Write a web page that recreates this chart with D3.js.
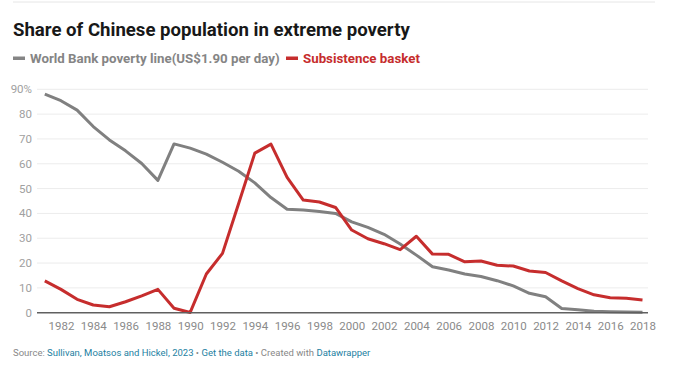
<!DOCTYPE html>
<html>
<head>
<meta charset="utf-8">
<script src="https://cdn.jsdelivr.net/npm/d3@7"></script>
<style>
  body { margin: 0; background: #fff; font-family: Roboto, "Noto Sans", sans-serif; }
  svg text { font-family: Roboto, "Noto Sans", sans-serif; }
</style>
</head>
<body>
<div id="chart"></div>
<script>
const years = d3.range(1981, 2019);

const worldBank = [
  88.1, 85.4, 81.6, 75.0, 69.6, 65.2, 60.1, 53.3, 68.0, 66.3,
  63.9, 60.6, 57.0, 52.3, 46.4, 41.7, 41.4, 40.8, 40.0, 36.6,
  34.4, 31.6, 27.7, 23.2, 18.5, 17.2, 15.6, 14.6, 12.9, 10.8,
  7.8, 6.4, 1.7, 1.2, 0.6, 0.4, 0.3, 0.2
];

const subsistence = [
  12.8, 9.4, 5.4, 3.1, 2.4, 4.4, 6.8, 9.4, 1.8, 0.1,
  15.6, 23.9, 44.0, 64.3, 67.9, 54.5, 45.4, 44.6, 42.4, 33.3,
  29.8, 27.8, 25.4, 30.8, 23.6, 23.5, 20.5, 20.8, 19.1, 18.8,
  16.8, 16.2, 12.8, 9.7, 7.2, 6.0, 5.8, 5.1
];

const yTicks = [0, 10, 20, 30, 40, 50, 60, 70, 80, 90];
const xTicks = d3.range(1982, 2019, 2);

const w = 700;
const h = 389;

const svg = d3
  .select("#chart")
  .append("svg")
  .attr("width", w)
  .attr("height", h);

// thin rule at the very top
svg.append("line")
  .attr("x1", 13).attr("x2", 655)
  .attr("y1", 2).attr("y2", 2)
  .attr("stroke", "#e6e6e6");

svg.append("text")
  .attr("x", 13)
  .attr("y", 36)
  .attr("font-size", 18.6)
  .attr("font-weight", 700)
  .attr("fill", "#181818")
  .text("Share of Chinese population in extreme poverty");

// legend
const legend = [
  { label: "World Bank poverty line(US$1.90 per day)", color: "#858585", x: 13 },
  { label: "Subsistence basket", color: "#c62d2d", x: 286 }
];
legend.forEach((l) => {
  svg.append("rect")
    .attr("x", l.x).attr("y", 56.5)
    .attr("width", 12).attr("height", 3.5)
    .attr("fill", l.color);
  svg.append("text")
    .attr("x", l.x + 17)
    .attr("y", 63)
    .attr("font-size", 13.3)
    .attr("font-weight", 700)
    .attr("fill", l.color)
    .text(l.label);
});

const x = d3.scaleLinear([1981, 2018], [44.8, 642.5]);
const y = d3.scaleLinear([0, 90], [312.7, 89.3]);

// gridlines
svg.append("g")
  .selectAll("line")
  .data(yTicks.filter((d) => d > 0))
  .join("line")
  .attr("x1", 37).attr("x2", 648)
  .attr("y1", (d) => y(d)).attr("y2", (d) => y(d))
  .attr("stroke", "#ececec");

// y labels
svg.append("g")
  .selectAll("text")
  .data(yTicks)
  .join("text")
  .attr("x", 32)
  .attr("y", (d) => y(d) + 4)
  .attr("text-anchor", "end")
  .attr("font-size", 11.5)
  .attr("fill", "#a0a0a0")
  .text((d) => (d === 90 ? "90%" : d));

// x labels
const gx = svg.append("g")
  .attr("transform", "translate(0,313)")
  .call(d3.axisBottom(x).tickValues(xTicks).tickFormat(d3.format("d")).tickSize(0).tickPadding(9));
gx.select(".domain").remove();
gx.selectAll("text")
  .attr("font-size", 11.5)
  .attr("fill", "#8a8a8a");

const line = d3.line()
  .x((d, i) => x(years[i]))
  .y((d) => y(d));

svg.append("path")
  .datum(worldBank)
  .attr("d", line)
  .attr("fill", "none")
  .attr("stroke", "#808080")
  .attr("stroke-width", 3)
  .attr("stroke-linejoin", "round");

svg.append("path")
  .datum(subsistence)
  .attr("d", line)
  .attr("fill", "none")
  .attr("stroke", "#c62d2d")
  .attr("stroke-width", 3)
  .attr("stroke-linejoin", "round");

// baseline
svg.append("line")
  .attr("x1", 37).attr("x2", 648)
  .attr("y1", y(0)).attr("y2", y(0))
  .attr("stroke", "#606060")
  .attr("stroke-width", 1.5);

// footer
const foot = svg.append("text")
  .attr("x", 13)
  .attr("y", 356)
  .attr("font-size", 9.5)
  .attr("fill", "#888");
foot.append("tspan").text("Source: ");
foot.append("tspan").attr("fill", "#1d81a2").text("Sullivan, Moatsos and Hickel, 2023");
foot.append("tspan").text(" • ");
foot.append("tspan").attr("fill", "#1d81a2").text("Get the data");
foot.append("tspan").text(" • Created with ");
foot.append("tspan").attr("fill", "#1d81a2").text("Datawrapper");
</script>
</body>
</html>
